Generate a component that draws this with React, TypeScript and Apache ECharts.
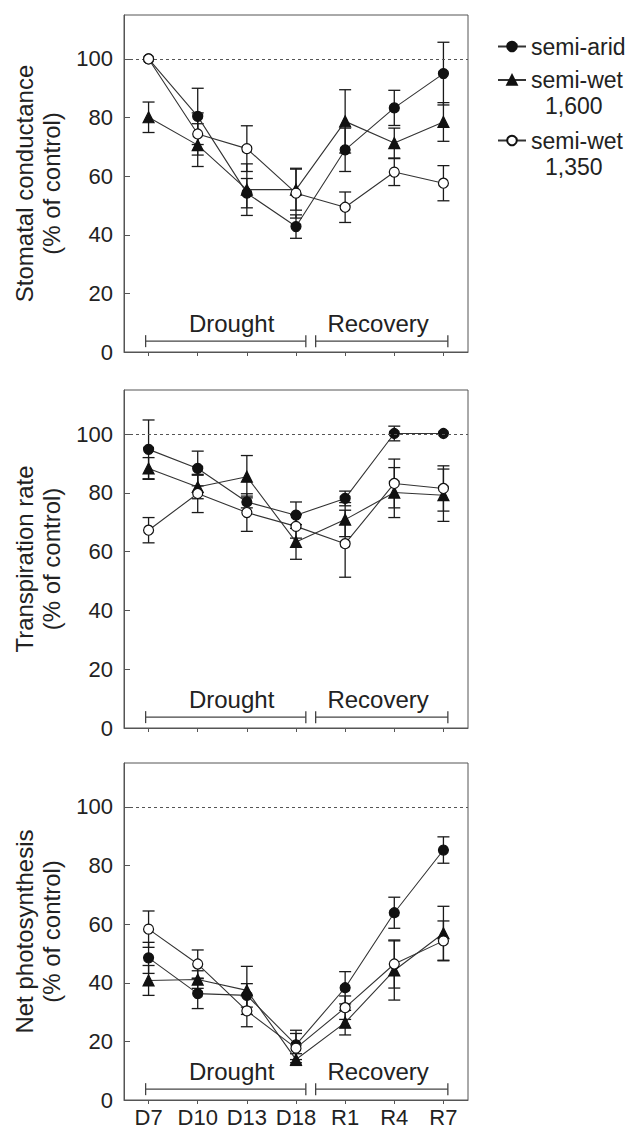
import React, { useEffect, useRef } from "react";
import * as echarts from "echarts";

// ---------- data ----------
const categories = ["D7", "D10", "D13", "D18", "R1", "R4", "R7"];
const seriesNames = ["semi-arid", "semi-wet 1,600", "semi-wet 1,350"];
const panelTitles = ["Stomatal conductance", "Transpiration rate", "Net photosynthesis"];
const yUnit = "(% of control)";
const yTickLabels = ["0", "20", "40", "60", "80", "100"];
const controlLevel = 100;

// Stomatal conductance
const stomSemiArid = [100, 80.4, 54.2, 42.8, 69.0, 83.3, 95.0];
const stomSemiAridErr = [0, 9.6, 5, 4, 7.4, 6, 10.7];
const stomWet1600 = [80.1, 70.6, 55.4, 55.4, 78.7, 71.3, 78.5];
const stomWet1600Err = [5.2, 7.3, 8.8, 7, 10.8, 5.1, 6.6];
const stomWet1350 = [100, 74.4, 69.4, 54.2, 49.4, 61.4, 57.6];
const stomWet1350Err = [0, 7.2, 7.8, 8.5, 5.2, 4.6, 6];

// Transpiration rate
const transSemiArid = [94.8, 88.3, 76.9, 72.4, 78.1, 100.2, 100.2];
const transSemiAridErr = [10, 5.9, 2, 4.5, 2.5, 2.5, 0];
const transWet1600 = [88.3, 82.0, 85.5, 63.3, 70.9, 80.1, 79.2];
const transWet1600Err = [3.7, 4, 7.2, 5.9, 5.8, 8.5, 8.9];
const transWet1350 = [67.3, 79.8, 73.3, 68.6, 62.7, 83.2, 81.5];
const transWet1350Err = [4.3, 6.5, 6.4, 4, 11.4, 8.3, 7.7];

// Net photosynthesis
const photoSemiArid = [48.5, 36.3, 35.7, 18.8, 38.3, 63.9, 85.3];
const photoSemiAridErr = [5.3, 5.1, 4, 5, 5.5, 5.3, 4.5];
const photoWet1600 = [40.8, 41.1, 37.4, 13.8, 26.4, 44.2, 56.9];
const photoWet1600Err = [5.1, 3, 8.2, 2, 4.2, 10.1, 9.2];
const photoWet1350 = [58.3, 46.4, 30.4, 17.7, 31.5, 46.4, 54.3];
const photoWet1350Err = [6.2, 4.8, 5.4, 5, 4, 8.2, 6.8];

// period brackets (in category-index units on the x axis, value units on y)
const bracketLabels = ["Drought", "Recovery"];
const bracketFrom = [-0.06, 3.4];
const bracketTo = [3.2, 6.09];
const bracketLabelX = [1.69, 4.67];
const bracketLevel = 3.7;
const bracketLabelLevel = 9.8;

const panelValues = [
  [stomSemiArid, stomWet1600, stomWet1350],
  [transSemiArid, transWet1600, transWet1350],
  [photoSemiArid, photoWet1600, photoWet1350],
];
const panelErrors = [
  [stomSemiAridErr, stomWet1600Err, stomWet1350Err],
  [transSemiAridErr, transWet1600Err, transWet1350Err],
  [photoSemiAridErr, photoWet1600Err, photoWet1350Err],
];

// ---------- styles ----------
const FONT = "'Liberation Sans', Arial, Helvetica, sans-serif";
const AX = "#555";
const TXT = "#222";
const gridBoxes = [
  { top: 15, height: 337 },
  { top: 390, height: 338 },
  { top: 763, height: 339 },
];
const symbols = ["circle", "triangle", "circle"];
const symbolSizes = [10, 11, 10];
const fills = ["#111", "#111", "#fff"];

function buildOption() {
  const grid: any[] = [];
  const xAxis: any[] = [];
  const yAxis: any[] = [];
  const series: any[] = [];

  gridBoxes.forEach((g, p) => {
    grid.push({
      left: 124,
      width: 344,
      top: g.top,
      height: g.height,
      show: true,
      borderColor: AX,
      borderWidth: 1,
      backgroundColor: "transparent",
    });
    const isLast = p === gridBoxes.length - 1;
    xAxis.push({
      type: "category",
      gridIndex: p,
      data: categories,
      boundaryGap: true,
      axisLine: { show: true, onZero: false, lineStyle: { color: AX, width: 1 } },
      axisTick: { show: true, alignWithLabel: true, length: 4, lineStyle: { color: AX } },
      axisLabel: {
        show: isLast,
        fontSize: 22,
        color: TXT,
        fontFamily: FONT,
        margin: 6,
        interval: 0,
      },
      splitLine: { show: false },
    });
    xAxis.push({
      type: "value",
      gridIndex: p,
      min: -0.5,
      max: 6.5,
      show: false,
      axisLine: { show: false, onZero: false },
    });
    yAxis.push({
      type: "value",
      gridIndex: p,
      min: 0,
      max: 115,
      interval: 20,
      name: panelTitles[p] + "\n" + yUnit,
      nameLocation: "middle",
      nameGap: 58,
      nameTextStyle: { fontSize: 24, lineHeight: 27, color: TXT, fontFamily: FONT },
      axisLine: { show: true, onZero: false, lineStyle: { color: AX, width: 1 } },
      axisTick: { show: true, inside: true, length: 6, lineStyle: { color: AX } },
      axisLabel: {
        fontSize: 22,
        color: TXT,
        fontFamily: FONT,
        margin: 11,
        showMaxLabel: false,
        formatter: (v: number) => {
          const s = String(v);
          return yTickLabels.indexOf(s) >= 0 ? s : "";
        },
      },
      splitLine: { show: false },
    });

    // error bars
    seriesNames.forEach((name, s) => {
      const vals = panelValues[p][s];
      const errs = panelErrors[p][s];
      series.push({
        type: "custom",
        name: name + " error",
        xAxisIndex: 2 * p,
        yAxisIndex: p,
        z: 2,
        silent: true,
        encode: { x: 0, y: [1, 2] },
        data: vals.map((v, i) => [i, v - errs[i], v + errs[i]]),
        renderItem: (params: any, api: any) => {
          const x = api.value(0);
          const lo = api.value(1);
          const hi = api.value(2);
          if (hi - lo <= 0.01) return null;
          const t = api.coord([x, hi]);
          const b = api.coord([x, lo]);
          const w = 6;
          const st = { stroke: "#1a1a1a", lineWidth: 1.3 };
          return {
            type: "group",
            children: [
              { type: "line", shape: { x1: t[0], y1: t[1], x2: b[0], y2: b[1] }, style: st },
              { type: "line", shape: { x1: t[0] - w, y1: t[1], x2: t[0] + w, y2: t[1] }, style: st },
              { type: "line", shape: { x1: b[0] - w, y1: b[1], x2: b[0] + w, y2: b[1] }, style: st },
            ],
          };
        },
      });
    });

    // lines + markers
    seriesNames.forEach((name, s) => {
      const ser: any = {
        type: "line",
        name,
        xAxisIndex: 2 * p,
        yAxisIndex: p,
        data: panelValues[p][s],
        symbol: symbols[s],
        symbolSize: symbolSizes[s],
        showAllSymbol: true,
        z: 3 + s,
        lineStyle: { color: "#333", width: 1.1 },
        itemStyle: { color: fills[s], borderColor: "#111", borderWidth: 1.2 },
        emphasis: { disabled: true },
      };
      if (s === 0) {
        ser.markLine = {
          silent: true,
          symbol: "none",
          label: { show: false },
          lineStyle: { type: [3, 3], color: "#555", width: 1 },
          data: [{ yAxis: controlLevel }],
        };
      }
      series.push(ser);
    });

    // brackets
    series.push({
      type: "custom",
      name: "periods",
      xAxisIndex: 2 * p + 1,
      yAxisIndex: p,
      z: 1,
      silent: true,
      data: bracketLabels.map((_, k) => [bracketFrom[k], bracketTo[k], bracketLabelX[k]]),
      renderItem: (params: any, api: any) => {
        const a = api.coord([api.value(0), bracketLevel]);
        const b = api.coord([api.value(1), bracketLevel]);
        const c = api.coord([api.value(2), bracketLabelLevel]);
        const h = 6;
        const st = { stroke: "#444", lineWidth: 1.3 };
        return {
          type: "group",
          children: [
            { type: "line", shape: { x1: a[0], y1: a[1], x2: b[0], y2: b[1] }, style: st },
            { type: "line", shape: { x1: a[0], y1: a[1] - h, x2: a[0], y2: a[1] + h }, style: st },
            { type: "line", shape: { x1: b[0], y1: b[1] - h, x2: b[0], y2: b[1] + h }, style: st },
            {
              type: "text",
              style: {
                text: bracketLabels[params.dataIndex],
                x: c[0],
                y: c[1],
                align: "center",
                verticalAlign: "middle",
                fontSize: 24,
                fontFamily: FONT,
                fill: TXT,
              },
            },
          ],
        };
      },
    });
  });

  const legendTops = [35, 68.5, 129];
  const legend = seriesNames.map((n, i) => ({
    data: [n],
    left: 497,
    top: legendTops[i],
    orient: "vertical",
    itemWidth: 28,
    itemHeight: 12,
    padding: 0,
    selectedMode: false,
    formatter: (name: string) => name.split(" ")[0],
    textStyle: { fontSize: 23, color: TXT, fontFamily: FONT },
  }));

  const graphic = seriesNames
    .map((n, i) => ({ sub: n.split(" ")[1], i }))
    .filter((d) => !!d.sub)
    .map((d) => ({
      type: "text",
      left: 545,
      top: legendTops[d.i] + 26,
      style: { text: d.sub, fontSize: 23, fontFamily: FONT, fill: TXT },
    }));

  return {
    animation: false,
    backgroundColor: "#fff",
    grid,
    xAxis,
    yAxis,
    series,
    legend,
    graphic,
  };
}

export default function App() {
  const ref = useRef<HTMLDivElement>(null);
  useEffect(() => {
    document.body.style.margin = "0";
    const chart = echarts.init(ref.current!, undefined, { renderer: "svg" });
    chart.setOption(buildOption() as any);
    return () => chart.dispose();
  }, []);
  return <div ref={ref} style={{ width: 632, height: 1128 }} />;
}
